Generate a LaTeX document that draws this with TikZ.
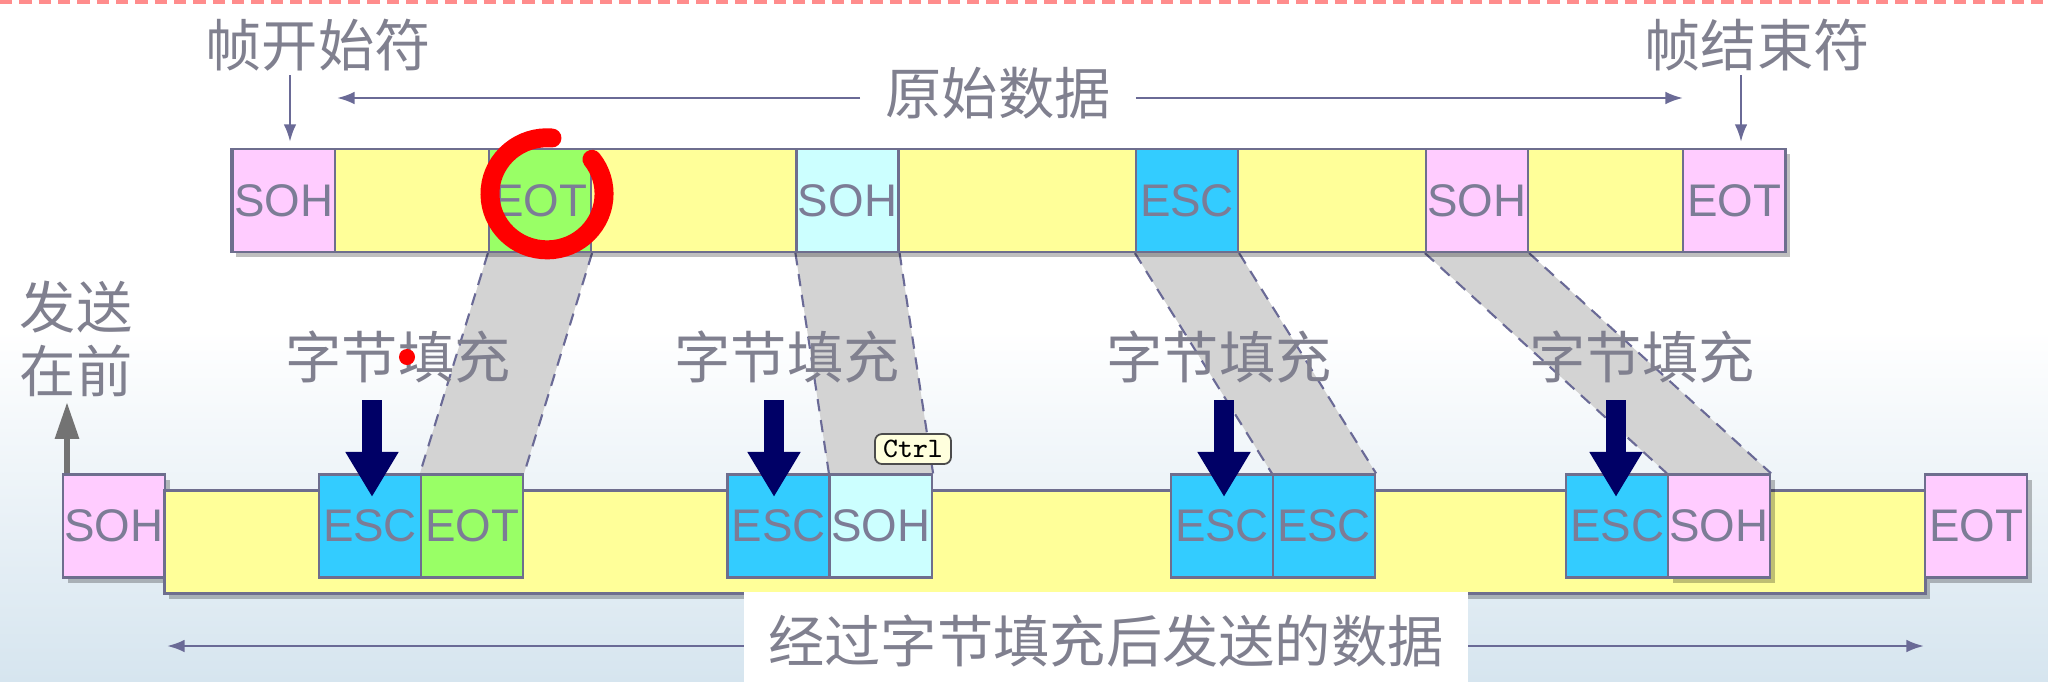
\documentclass[tikz,border=0pt]{standalone}
\usepackage{fontspec}
\setmainfont{Liberation Sans}
\newfontfamily\cjk{Noto Sans CJK SC}
\usetikzlibrary{arrows.meta,shadows}
\definecolor{cpink}{HTML}{FFCCFF}
\definecolor{cyell}{HTML}{FFFF99}
\definecolor{cgreen}{HTML}{99FF66}
\definecolor{cblue}{HTML}{33CCFF}
\definecolor{ccyan}{HTML}{CCFFFF}
\definecolor{edge}{HTML}{6E6E8E}
\definecolor{boxtxt}{HTML}{7C7C96}
\definecolor{lbltxt}{HTML}{80808F}
\definecolor{thinc}{HTML}{6A6A96}
\definecolor{quadc}{HTML}{D3D3D3}
\definecolor{navy}{HTML}{000066}
\definecolor{bgblue}{HTML}{D6E5EF}
\definecolor{tipc}{HTML}{FFFFDD}
\pgfdeclarelayer{bg}
\pgfsetlayers{bg,main}
\tikzset{
  cell/.style={draw=edge, line width=0.6pt, minimum width=1.02cm, minimum height=1.03cm,
    inner sep=0pt, font=\fontsize{13}{13}\selectfont, text=boxtxt},
  pinkc/.style={cell, fill=cpink},
  greenc/.style={cell, fill=cgreen},
  bluec/.style={cell, fill=cblue},
  cyanc/.style={cell, fill=ccyan},
  barc/.style={draw=edge, line width=0.6pt, fill=cyell, minimum height=1.03cm, inner sep=0pt},
  shad/.style={drop shadow={shadow xshift=1.3pt, shadow yshift=-1.5pt, fill=black, opacity=0.25}},
  lbl/.style={font=\cjk\fontsize{16}{16}\selectfont, text=lbltxt, inner sep=0pt},
  thinarr/.style={draw=thinc, line width=0.7pt, -{Latex[length=5pt,width=3.6pt]}},
  quadedge/.style={draw=thinc, line width=0.6pt, dash pattern=on 3.5pt off 2.5pt},
  navyarr/.style={draw=navy, line width=5.7pt, -{Triangle[length=12.8pt,width=14.2pt]}},
  grayarr/.style={draw=gray!90!black, line width=1.8pt, -{Triangle[length=10.5pt,width=6.5pt]}},
  topdash/.style={draw={rgb,255:red,255;green,140;blue,140}, line width=1.2pt, dash pattern=on 3.5pt off 2pt}
}
\begin{document}
\begin{tikzpicture}[x=0.01cm,y=-0.01cm]
\useasboundingbox (0,0) rectangle (2048,681);
\begin{pgfonlayer}{bg}
  \fill[white] (0,0) rectangle (2048,681);
  \shade[top color=white, bottom color=bgblue] (0,330) rectangle (2048,681);
\end{pgfonlayer}
\draw[topdash] (0,2) -- (2048,2);

% top row
\node[barc, shad, minimum width=15.53cm] (tbar) at (1008.5,200.5) {};
\node[pinkc]  (tS1) at (284,200.5) {SOH};
\node[greenc] (tE1) at (540,200.5) {EOT};
\node[cyanc]  (tS2) at (847.5,200.5) {SOH};
\node[bluec]  (tC1) at (1187,200.5) {ESC};
\node[pinkc]  (tS3) at (1477,200.5) {SOH};
\node[pinkc]  (tE2) at (1734,200.5) {EOT};

% bottom row
\node[pinkc, shad] (bS1) at (114,526) {SOH};
\node[barc, shad, minimum width=17.60cm] (bbar) at (1045,542) {};
\node[bluec]  (bC1) at (370,526) {ESC};
\node[greenc] (bE1) at (472,526) {EOT};
\node[bluec]  (bC2) at (778.5,526) {ESC};
\node[cyanc]  (bS2) at (881,526) {SOH};
\node[bluec]  (bC3) at (1222,526) {ESC};
\node[bluec]  (bC4) at (1324,526) {ESC};
\node[bluec]  (bC5) at (1617,526) {ESC};
\node[pinkc, shad]  (bS3) at (1719,526) {SOH};
\node[pinkc, shad] (bE2) at (1976,526) {EOT};

% gray mapping bands
\begin{pgfonlayer}{bg}
\foreach \a/\b in {tE1/bE1, tS2/bS2, tC1/bC4, tS3/bS3} {
  \fill[quadc] (\a.south west) -- (\a.south east) -- (\b.north east) -- (\b.north west) -- cycle;
  \draw[quadedge] (\a.south west) -- (\b.north west);
  \draw[quadedge] (\a.south east) -- (\b.north east);
}
\end{pgfonlayer}

% top labels
\node[lbl] (lstart) at (318,45) {帧开始符};
\node[lbl] (lend) at (1757,45) {帧结束符};
\coordinate (as) at (290,75);
\coordinate (ae) at (1741,75);
\draw[thinarr] (as) -- ([yshift=0.06cm]as |- tS1.north);
\draw[thinarr] (ae) -- ([yshift=0.06cm]ae |- tE2.north);
\node[lbl, inner xsep=7pt] (ldata) at (998,93) {原始数据};
\coordinate (dl) at (337,98);
\coordinate (dr) at (1683,98);
\draw[thinarr] (ldata.west |- dl) -- (dl);
\draw[thinarr] (ldata.east |- dr) -- (dr);

% send-first label
\node[lbl, align=center, font=\cjk\fontsize{16}{18.2}\selectfont] (lsend) at (76,339) {发送\\在前};
\coordinate (sendtip) at (67,402);
\draw[grayarr] (sendtip |- bS1.north) -- (sendtip);

% byte stuffing labels and arrows
\node[lbl] (lf1) at (398,357) {字节填充};
\node[lbl] (lf2) at (787,357) {字节填充};
\node[lbl] (lf3) at (1219,357) {字节填充};
\node[lbl] (lf4) at (1642,357) {字节填充};
\coordinate (n1) at (372,400);
\coordinate (n2) at (774,400);
\coordinate (n3) at (1224,400);
\coordinate (n4) at (1616,400);
\foreach \n in {n1,n2,n3,n4} { \draw[navyarr] (\n) -- ++(0,97); }

% bottom label and arrow
\coordinate (bl) at (167,646);
\coordinate (br) at (1924,646);
\draw[thinarr] (1100,646) -- (bl);
\draw[thinarr] (1100,646) -- (br);
\node[fill=white, minimum width=7.23cm, minimum height=0.98cm, inner sep=0pt,
  font=\cjk\fontsize{16}{16}\selectfont, text=lbltxt] (lsent) at (1106,641) {经过字节填充后发送的数据};

% annotations
\draw[red, line width=5.4pt, line cap=round] (552,138) arc[start angle=85, end angle=398, x radius=0.57cm, y radius=0.56cm];
\fill[red] (407,357) circle[radius=0.08cm];
\node[draw=gray!60!black, fill=tipc, rounded corners=2pt, line width=0.5pt,
  font=\ttfamily\fontsize{8}{8}\selectfont, minimum width=0.76cm, minimum height=0.3cm, inner sep=1pt] (ctrl) at (913,449) {Ctrl};
\end{tikzpicture}
\end{document}
